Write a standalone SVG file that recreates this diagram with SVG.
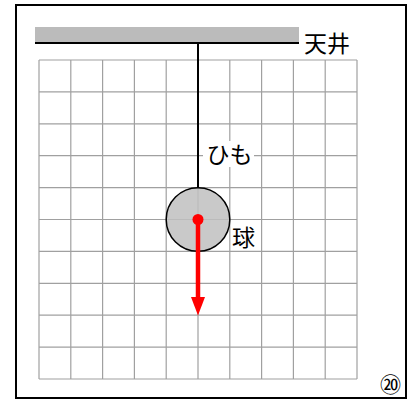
<svg xmlns="http://www.w3.org/2000/svg" width="411" height="401" viewBox="0 0 411 401">
<style>
.grid line{stroke:#a0a0a0;stroke-width:1.2}
.lbl{font-family:"Noto Sans CJK JP","Noto Sans CJK SC",sans-serif;font-size:23px;fill:#000}
</style>
<rect x="0" y="0" width="411" height="401" fill="#fff"/>
<rect x="16" y="5" width="390" height="393" fill="none" stroke="#000" stroke-width="2"/>
<g class="grid" id="grid">
<line x1="39" y1="60" x2="39" y2="379"/>
<line x1="70.8" y1="60" x2="70.8" y2="379"/>
<line x1="102.6" y1="60" x2="102.6" y2="379"/>
<line x1="134.4" y1="60" x2="134.4" y2="379"/>
<line x1="166.2" y1="60" x2="166.2" y2="379"/>
<line x1="198" y1="60" x2="198" y2="379"/>
<line x1="229.8" y1="60" x2="229.8" y2="379"/>
<line x1="261.6" y1="60" x2="261.6" y2="379"/>
<line x1="293.4" y1="60" x2="293.4" y2="379"/>
<line x1="325.2" y1="60" x2="325.2" y2="379"/>
<line x1="357" y1="60" x2="357" y2="379"/>
<line x1="39" y1="60" x2="357" y2="60"/>
<line x1="39" y1="91.9" x2="357" y2="91.9"/>
<line x1="39" y1="123.8" x2="357" y2="123.8"/>
<line x1="39" y1="155.7" x2="357" y2="155.7"/>
<line x1="39" y1="187.6" x2="357" y2="187.6"/>
<line x1="39" y1="219.5" x2="357" y2="219.5"/>
<line x1="39" y1="251.4" x2="357" y2="251.4"/>
<line x1="39" y1="283.3" x2="357" y2="283.3"/>
<line x1="39" y1="315.2" x2="357" y2="315.2"/>
<line x1="39" y1="347.1" x2="357" y2="347.1"/>
<line x1="39" y1="379" x2="357" y2="379"/>
</g>
<g id="ceiling">
<rect x="35" y="27" width="264" height="16" fill="#bbbbbb"/>
<line x1="35" y1="43" x2="299" y2="43" stroke="#000" stroke-width="2"/>
<text class="lbl" x="304" y="51.5">天井</text>
</g>
<g id="connectors">
<line x1="198" y1="43" x2="198" y2="188" stroke="#000" stroke-width="2"/>
</g>
<g id="ball">
<circle cx="198" cy="219.5" r="31.8" fill="#c0c0c0" fill-opacity="0.85" stroke="#000" stroke-width="1.5"/>
<text class="lbl" x="232" y="246">球</text>
</g>
<g id="himo">
<rect x="203" y="141" width="51" height="26" fill="#fff"/>
<text class="lbl" x="206.5" y="162.5">ひも</text>
</g>
<g id="force">
<line x1="198" y1="219.5" x2="198" y2="300" stroke="#ff0000" stroke-width="4.5"/>
<path d="M191,297 L205,297 L198,315.5 Z" fill="#ff0000"/>
<circle cx="198" cy="219.5" r="5.5" fill="#ff0000"/>
</g>
<text x="390.5" y="392" text-anchor="middle" font-family="Noto Sans CJK JP, sans-serif" font-size="21">⑳</text>
</svg>
